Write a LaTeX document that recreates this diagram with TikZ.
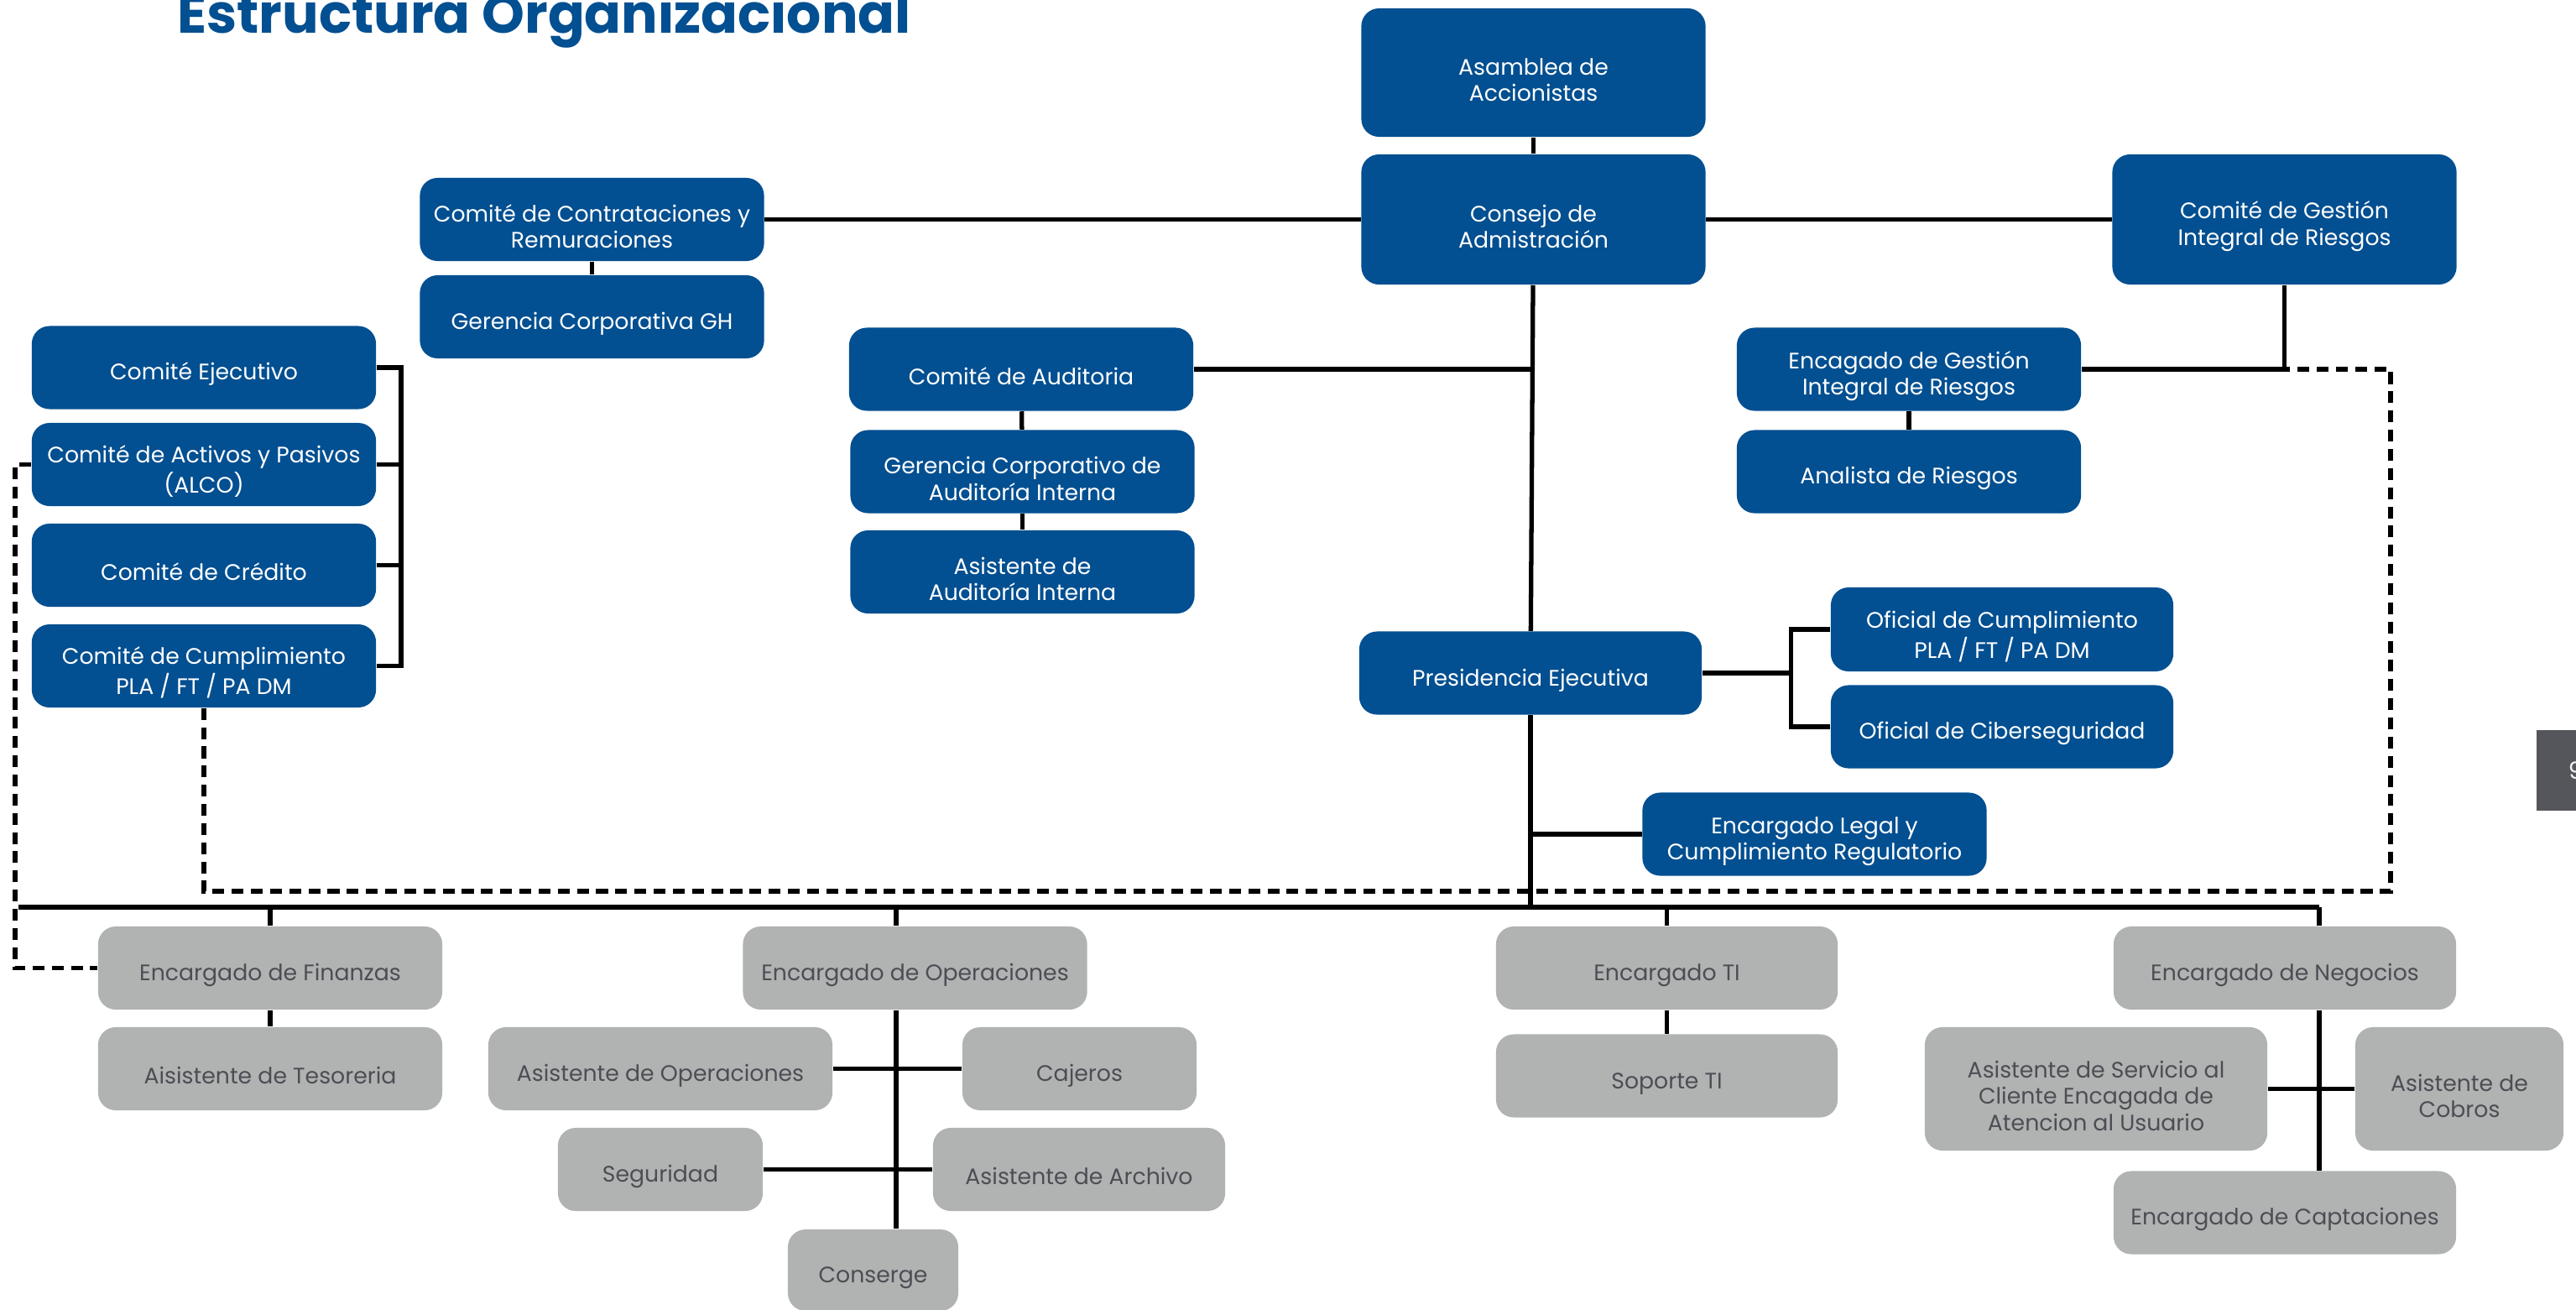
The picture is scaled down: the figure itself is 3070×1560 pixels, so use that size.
\documentclass[tikz,border=0pt]{standalone}
\usepackage{fontspec}
\setmainfont{Poppins}
\definecolor{azul}{RGB}{2,79,145}
\definecolor{gris}{RGB}{176,179,178}
\definecolor{grisTxt}{RGB}{76,78,84}
\definecolor{pestana}{RGB}{85,86,91}
\newcommand{\sube}{\rule{0pt}{10.5pt}}

\begin{document}
\begin{tikzpicture}[x=0.01cm,y=0.01cm,yscale=-1,
  jefe/.style={fill=azul, text=white, rounded corners=6pt, align=center, inner sep=0pt,
    minimum width=4.1cm, minimum height=0.99cm, font=\fontsize{7.6}{9}\selectfont,
    execute at begin node={\sube}},
  area/.style={jefe, fill=gris, text=grisTxt},
  linea/.style={line width=1.5pt},
  punteada/.style={line width=1.5pt, dash pattern=on 4pt off 2.5pt}]
\useasboundingbox (0,0) rectangle (3070,1560);

% Title
\draw (199,39) node [anchor=base west, text=azul, font=\fontsize{18.4}{18}\bfseries\selectfont] (titulo) {Estructura Organizacional};

%Shape: Rounded Rect -- directorio
\draw (1827.5,86.5) node [jefe, minimum height=1.53cm] (asamblea) {\sube Asamblea de\\Accionistas};
\draw (1827.5,261.5) node [jefe, minimum height=1.55cm] (consejo) {\sube Consejo de\\Admistración};
\draw (2722.5,261.5) node [jefe, minimum height=1.55cm] (gestion) {\sube Comité de Gestión\\Integral de Riesgos};
\draw (705.5,261.5) node [jefe] (contrat) {\sube Comité de Contrataciones y\\Remuraciones};
\draw (705.5,377.5) node [jefe] (gh) {Gerencia Corporativa GH};

%Shape: Rounded Rect -- comites
\draw (243,438) node [jefe] (ejec) {Comité Ejecutivo};
\draw (243,553.5) node [jefe] (alco) {\sube Comité de Activos y Pasivos\\(ALCO)};
\draw (243,673.5) node [jefe] (cred) {Comité de Crédito};
\draw (243,793.5) node [jefe] (cumpl) {\sube Comité de Cumplimiento\\PLA / FT / PA DM};

\draw (1217,440) node [jefe] (auditoria) {Comité de Auditoria};
\draw (1218.5,562) node [jefe] (gca) {\sube Gerencia Corporativo de\\Auditoría Interna};
\draw (1218.5,681.5) node [jefe] (asaud) {\sube Asistente de\\Auditoría Interna};

\draw (2275,440) node [jefe] (encgir) {\sube Encagado de Gestión\\Integral de Riesgos};
\draw (2275,562) node [jefe] (analista) {Analista de Riesgos};

\draw (1824,802) node [jefe, minimum width=4.08cm] (presid) {Presidencia Ejecutiva};
\draw (2386,750) node [jefe, minimum width=4.08cm, minimum height=1cm] (ofcum) {\sube Oficial de Cumplimiento\\PLA / FT / PA DM};
\draw (2386,866) node [jefe, minimum width=4.08cm] (ofcib) {Oficial de Ciberseguridad};
\draw (2162.5,994) node [jefe] (legal) {\sube Encargado Legal y\\Cumplimiento Regulatorio};

%Shape: Rounded Rect -- areas
\draw (322,1153.5) node [area] (fin) {Encargado de Finanzas};
\draw (322,1273.5) node [area] (tes) {Aisistente de Tesoreria};
\draw (1090.5,1153.5) node [area] (ops) {Encargado de Operaciones};
\draw (787,1273.5) node [area] (asop) {Asistente de Operaciones};
\draw (1286.5,1273.5) node [area, minimum width=2.79cm] (caj) {Cajeros};
\draw (787,1393.5) node [area, minimum width=2.44cm] (seg) {Seguridad};
\draw (1286,1393.5) node [area, minimum width=3.48cm] (arch) {Asistente de Archivo};
\draw (1040.5,1513.5) node [area, minimum width=2.03cm, minimum height=0.97cm] (cons) {Conserge};
\draw (1986.5,1153.5) node [area, minimum width=4.07cm] (ti) {Encargado TI};
\draw (1986.5,1282) node [area, minimum width=4.07cm] (sop) {Soporte TI};
\draw (2723,1153.5) node [area, minimum width=4.08cm] (neg) {Encargado de Negocios};
\draw (2498,1297.5) node [area, minimum width=4.08cm, minimum height=1.47cm] (asserv) {\sube Asistente de Servicio al\\Cliente Encagada de\\Atencion al Usuario};
\draw (2931,1297.5) node [area, minimum width=2.48cm, minimum height=1.47cm] (cobros) {\sube Asistente de\\Cobros};
\draw (2723,1445) node [area, minimum width=4.08cm] (capt) {Encargado de Captaciones};

% side tab
\fill [pestana] (3023,870) rectangle (3080,966);
\draw (3060,918) node [anchor=west, inner sep=0pt, text=white!88!gray, font=\fontsize{8}{9}\selectfont] (pagina) {9};

%Straight Lines
\coordinate (busI) at (22,1081);
\coordinate (busD) at (2764,1081);
\coordinate (opsEje) at (1068,1081);
\coordinate (comEje) at (478,0);
\coordinate (punI) at (18,0);
\coordinate (punD) at (2849,1062);

\draw [linea] (asamblea) -- (consejo);
\draw [linea] (contrat) -- (consejo);
\draw [linea] (consejo) -- (gestion);
\draw [linea] (contrat) -- (gh);
\draw [linea] (consejo) -- (presid);
\draw [linea] (auditoria.east) -- (auditoria.east -| consejo.south);
\draw [linea] (auditoria) -- (gca);
\draw [linea] (gca) -- (asaud);
\draw [linea] (encgir.east) -- (encgir.east -| gestion.south) -- (gestion.south);
\draw [linea] (encgir) -- (analista);

\draw [linea] (ejec.east) -- (ejec.east -| comEje) -- (cumpl.east -| comEje) -- (cumpl.east);
\draw [linea] (alco.east) -- (alco.east -| comEje);
\draw [linea] (cred.east) -- (cred.east -| comEje);

\draw [linea] (presid.east) -- ++(106,0) coordinate (pb);
\draw [linea] (ofcum.west) -| (pb) |- (ofcib.west);
\draw [linea] (legal.west) -- (legal.west -| presid.south);
\draw [linea] (presid.south) -- (presid.south |- busI);

% bus
\draw [linea] (busI) -- (busD);
\draw [linea] (fin.north |- busI) -- (fin.north);
\draw [linea] (fin) -- (tes);
\draw [linea] (opsEje) -- (opsEje |- ops.north);
\draw [linea] (opsEje |- ops.south) -- (opsEje |- cons.north);
\draw [linea] (asop) -- (caj);
\draw [linea] (seg) -- (arch);
\draw [linea] (ti.north |- busI) -- (ti.north);
\draw [linea] (ti) -- (sop);
\draw [linea] (busD) -- (busD |- neg.north);
\draw [linea] (busD |- neg.south) -- (busD |- capt.north);
\draw [linea] (asserv) -- (cobros);

% dashed
\draw [punteada] (cumpl.south) |- (punD) |- (encgir.east -| gestion.south);
\draw [punteada] (alco.west) -- (alco.west -| punI) -- (fin.west -| punI) -- (fin.west);

\end{tikzpicture}
\end{document}
